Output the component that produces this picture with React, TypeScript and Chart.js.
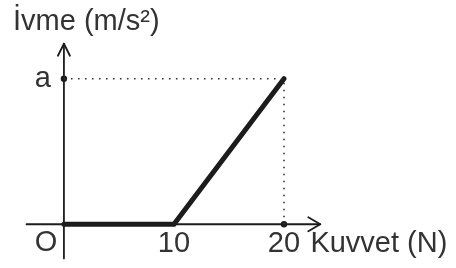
import React, { useEffect, useRef } from "react";
import { Chart, registerables } from "chart.js";

Chart.register(...registerables);

const forceValues = [0, 10, 20];
const accelValues = [0, 0, 1];
const xTickValues = [10, 20];
const xTickLabels = ["10", "20"];
const yTickValues = [1];
const yTickLabels = ["a"];
const originLabel = "O";
const xTitle = "Kuvvet (N)";
const yTitle = "İvme (m/s²)";

const TEXT = "#333333";
const LINE = "#1c1c1c";
const FONT = "29px 'Liberation Sans', Arial, sans-serif";

const axesPlugin = {
  id: "axesPlugin",
  beforeDatasetsDraw(chart: any) {
    const { ctx } = chart;
    const xs = chart.scales.x;
    const ys = chart.scales.y;
    const x0 = xs.getPixelForValue(0);
    const y0 = ys.getPixelForValue(0);
    const xLeft = xs.getPixelForValue(-3.4);
    const xRight = xs.getPixelForValue(23.3);
    const yBottom = ys.getPixelForValue(-0.235);
    const yTop = ys.getPixelForValue(1.24);
    ctx.save();
    ctx.strokeStyle = LINE;
    ctx.lineWidth = 1.8;
    ctx.lineCap = "round";
    ctx.lineJoin = "round";
    // x axis
    ctx.beginPath();
    ctx.moveTo(xLeft, y0);
    ctx.lineTo(xRight, y0);
    ctx.stroke();
    ctx.beginPath();
    ctx.moveTo(xRight - 12, y0 - 7);
    ctx.lineTo(xRight, y0);
    ctx.lineTo(xRight - 12, y0 + 7);
    ctx.stroke();
    // y axis
    ctx.beginPath();
    ctx.moveTo(x0, yBottom);
    ctx.lineTo(x0, yTop);
    ctx.stroke();
    ctx.beginPath();
    ctx.moveTo(x0 - 6, yTop + 12);
    ctx.lineTo(x0, yTop);
    ctx.lineTo(x0 + 6, yTop + 12);
    ctx.stroke();
    ctx.restore();
  },
  afterDatasetsDraw(chart: any) {
    const { ctx } = chart;
    const xs = chart.scales.x;
    const ys = chart.scales.y;
    const x0 = xs.getPixelForValue(0);
    const y0 = ys.getPixelForValue(0);
    ctx.save();
    ctx.fillStyle = TEXT;
    ctx.font = FONT;
    ctx.textBaseline = "middle";
    ctx.textAlign = "center";
    xTickValues.forEach((v, i) => {
      ctx.fillText(xTickLabels[i], xs.getPixelForValue(v), y0 + 20);
    });
    ctx.fillText(originLabel, x0 - 18, y0 + 19);
    ctx.textAlign = "right";
    yTickValues.forEach((v, i) => {
      ctx.fillText(yTickLabels[i], x0 - 13, ys.getPixelForValue(v));
    });
    ctx.textAlign = "left";
    ctx.fillText(xTitle, xs.getPixelForValue(22.4), y0 + 20);
    ctx.fillText(yTitle, 13, 22);
    ctx.restore();
  },
};

export default function App() {
  const ref = useRef<HTMLCanvasElement>(null);
  useEffect(() => {
    document.body.style.margin = "0";
    const a = accelValues[accelValues.length - 1];
    const xMax = forceValues[forceValues.length - 1];
    const chart = new Chart(ref.current as HTMLCanvasElement, {
      type: "scatter",
      data: {
        datasets: [
          {
            data: [
              { x: 0, y: a },
              { x: xMax, y: a },
              { x: xMax, y: 0 },
            ],
            showLine: true,
            borderColor: "#333",
            borderWidth: 1.6,
            borderDash: [1.6, 5.4],
            pointRadius: 0,
          },
          {
            data: forceValues.map((f, i) => ({ x: f, y: accelValues[i] })),
            showLine: true,
            borderColor: LINE,
            borderWidth: 5,
            pointRadius: 0,
            borderCapStyle: "round",
            borderJoinStyle: "miter",
          },
          {
            data: [
              { x: 0, y: a },
              { x: xMax, y: 0 },
            ],
            showLine: false,
            pointRadius: 3.2,
            pointBackgroundColor: LINE,
            pointBorderWidth: 0,
          },
        ],
      },
      options: {
        animation: false,
        responsive: false,
        maintainAspectRatio: false,
        layout: { padding: 0 },
        plugins: {
          legend: { display: false },
          tooltip: { enabled: false },
          title: { display: false },
        },
        scales: {
          x: { type: "linear", display: false, min: -5.446, max: 35.27 },
          y: { type: "linear", display: false, min: -0.2733, max: 1.5133 },
        },
      },
      plugins: [axesPlugin],
    } as any);
    return () => chart.destroy();
  }, []);
  return (
    <div style={{ width: 456, height: 268, background: "#fff" }}>
      <canvas ref={ref} width={456} height={268} style={{ display: "block" }} />
    </div>
  );
}
